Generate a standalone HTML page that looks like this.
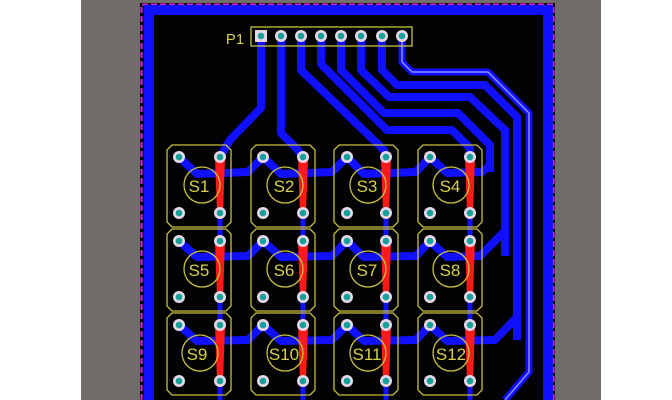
<!DOCTYPE html>
<html><head><meta charset="utf-8"><style>
html,body{margin:0;padding:0;background:#fff;width:672px;height:400px;overflow:hidden}
svg{display:block}
text{font-family:"Liberation Sans",sans-serif;fill:#d8d048}
</style></head><body>
<svg width="672" height="400" viewBox="0 0 672 400" xmlns="http://www.w3.org/2000/svg">
<rect x="0" y="0" width="672" height="400" fill="#fff"/>
<rect x="81" y="0" width="520" height="400" fill="#6f6c6a"/>
<rect x="140" y="3" width="415" height="400" fill="#020202"/>
<path d="M141.5,400 V4.5 H553.5 V400" fill="none" stroke="#e020e0" stroke-width="2" stroke-dasharray="6,3"/>
<path d="M149,400 V10 H548 V400" fill="none" stroke="#1010ff" stroke-width="10"/>

<g fill="none" stroke="#1010ff" stroke-linejoin="round">
<g stroke-width="5">
<path d="M220,157 V400"/><path d="M303,157 V400"/><path d="M386,157 V400"/><path d="M470,157 V400"/>
</g>
<g stroke-width="8">
<path d="M261,36 V108 L230,140 L220,157"/>
<path d="M281,36 V133 L297,149 L303,157"/>
<path d="M301,36 V70 L384,150 L386,157"/>
<path d="M321,36 V64 L387,130 L452,130 L470,148 V157"/>
<path d="M341,36 V70 L384,113 L458,113 L490,145 V172"/>
<path d="M361,36 V70 L389,97 L470,97 L505,130 V256"/>
<path d="M382,36 V70 L397,85 L485,85 L517,117 V340"/>
<path d="M179,157 L197,174 L248,172 L263,157 L281,174 L332,172 L347,157 L364,174 L416,172 L430,157 L447,173 L482,172 L490,165"/>
<path d="M179,241 L197,257 L248,256 L263,241 L281,257 L332,256 L347,241 L364,257 L416,256 L430,241 L447,257 L480,256 L505,231"/>
<path d="M179,325 L197,341 L248,340 L263,325 L281,341 L332,340 L347,325 L364,341 L416,340 L430,325 L447,341 L495,340 L517,317"/>
</g>
<path d="M402,36 V62 L412,72 L488,72 L529,113 V372 L505,400" stroke-width="7"/>
<path d="M402,36 V62 L412,72 L488,72 L529,113 V372 L505,400" stroke="#8c8cff" stroke-width="1.5"/>
</g>

<g fill="#ff1a1a">
<polygon points="215,157 225,157 223,213 217,213"/><polygon points="215,241 225,241 223,297 217,297"/><polygon points="215,325 225,325 223,381 217,381"/>
<polygon points="298,157 308,157 306,213 300,213"/><polygon points="298,241 308,241 306,297 300,297"/><polygon points="298,325 308,325 306,381 300,381"/>
<polygon points="381,157 391,157 389,213 383,213"/><polygon points="381,241 391,241 389,297 383,297"/><polygon points="381,325 391,325 389,381 383,381"/>
<polygon points="465,157 475,157 473,213 467,213"/><polygon points="465,241 475,241 473,297 467,297"/><polygon points="465,325 475,325 473,381 467,381"/>
</g>

<g fill="none" stroke="#c8c040" stroke-width="1.3">
<path d="M172,145 H226 L231,150 V222 L226,227 H172 L167,222 V150 Z"/>
<path d="M172,145 H226 L231,150 V222 L226,227 H172 L167,222 V150 Z" transform="translate(84,0)"/>
<path d="M172,145 H226 L231,150 V222 L226,227 H172 L167,222 V150 Z" transform="translate(167,0)"/>
<path d="M172,145 H226 L231,150 V222 L226,227 H172 L167,222 V150 Z" transform="translate(251,0)"/>
<path d="M172,145 H226 L231,150 V222 L226,227 H172 L167,222 V150 Z" transform="translate(0,84)"/>
<path d="M172,145 H226 L231,150 V222 L226,227 H172 L167,222 V150 Z" transform="translate(84,84)"/>
<path d="M172,145 H226 L231,150 V222 L226,227 H172 L167,222 V150 Z" transform="translate(167,84)"/>
<path d="M172,145 H226 L231,150 V222 L226,227 H172 L167,222 V150 Z" transform="translate(251,84)"/>
<path d="M172,145 H226 L231,150 V222 L226,227 H172 L167,222 V150 Z" transform="translate(0,168)"/>
<path d="M172,145 H226 L231,150 V222 L226,227 H172 L167,222 V150 Z" transform="translate(84,168)"/>
<path d="M172,145 H226 L231,150 V222 L226,227 H172 L167,222 V150 Z" transform="translate(167,168)"/>
<path d="M172,145 H226 L231,150 V222 L226,227 H172 L167,222 V150 Z" transform="translate(251,168)"/>
<circle cx="202" cy="185" r="18"/><circle cx="285" cy="185" r="18"/><circle cx="368" cy="185" r="18"/><circle cx="451" cy="185" r="18"/>
<circle cx="202" cy="269" r="18"/><circle cx="285" cy="269" r="18"/><circle cx="368" cy="269" r="18"/><circle cx="451" cy="269" r="18"/>
<circle cx="200" cy="353" r="18"/><circle cx="285" cy="353" r="18"/><circle cx="368" cy="353" r="18"/><circle cx="451" cy="353" r="18"/>
<rect x="251" y="27" width="161" height="19"/>
</g>

<g>
<g fill="#e6d6e6">
<circle cx="179" cy="157" r="6"/><circle cx="220" cy="157" r="6"/><circle cx="179" cy="213" r="6"/><circle cx="220" cy="213" r="6"/>
<circle cx="263" cy="157" r="6"/><circle cx="303" cy="157" r="6"/><circle cx="263" cy="213" r="6"/><circle cx="303" cy="213" r="6"/>
<circle cx="347" cy="157" r="6"/><circle cx="386" cy="157" r="6"/><circle cx="347" cy="213" r="6"/><circle cx="386" cy="213" r="6"/>
<circle cx="430" cy="157" r="6"/><circle cx="470" cy="157" r="6"/><circle cx="430" cy="213" r="6"/><circle cx="470" cy="213" r="6"/>
<circle cx="179" cy="241" r="6"/><circle cx="220" cy="241" r="6"/><circle cx="179" cy="297" r="6"/><circle cx="220" cy="297" r="6"/>
<circle cx="263" cy="241" r="6"/><circle cx="303" cy="241" r="6"/><circle cx="263" cy="297" r="6"/><circle cx="303" cy="297" r="6"/>
<circle cx="347" cy="241" r="6"/><circle cx="386" cy="241" r="6"/><circle cx="347" cy="297" r="6"/><circle cx="386" cy="297" r="6"/>
<circle cx="430" cy="241" r="6"/><circle cx="470" cy="241" r="6"/><circle cx="430" cy="297" r="6"/><circle cx="470" cy="297" r="6"/>
<circle cx="179" cy="325" r="6"/><circle cx="220" cy="325" r="6"/><circle cx="179" cy="381" r="6"/><circle cx="220" cy="381" r="6"/>
<circle cx="263" cy="325" r="6"/><circle cx="303" cy="325" r="6"/><circle cx="263" cy="381" r="6"/><circle cx="303" cy="381" r="6"/>
<circle cx="347" cy="325" r="6"/><circle cx="386" cy="325" r="6"/><circle cx="347" cy="381" r="6"/><circle cx="386" cy="381" r="6"/>
<circle cx="430" cy="325" r="6"/><circle cx="470" cy="325" r="6"/><circle cx="430" cy="381" r="6"/><circle cx="470" cy="381" r="6"/>
<rect x="255" y="30" width="12" height="12"/>
<circle cx="281" cy="36" r="6"/><circle cx="301" cy="36" r="6"/><circle cx="321" cy="36" r="6"/><circle cx="341" cy="36" r="6"/><circle cx="361" cy="36" r="6"/><circle cx="382" cy="36" r="6"/><circle cx="402" cy="36" r="6"/>
</g>
<g fill="#17a09a">
<circle cx="179" cy="157" r="3.3"/><circle cx="220" cy="157" r="3.3"/><circle cx="179" cy="213" r="3.3"/><circle cx="220" cy="213" r="3.3"/>
<circle cx="263" cy="157" r="3.3"/><circle cx="303" cy="157" r="3.3"/><circle cx="263" cy="213" r="3.3"/><circle cx="303" cy="213" r="3.3"/>
<circle cx="347" cy="157" r="3.3"/><circle cx="386" cy="157" r="3.3"/><circle cx="347" cy="213" r="3.3"/><circle cx="386" cy="213" r="3.3"/>
<circle cx="430" cy="157" r="3.3"/><circle cx="470" cy="157" r="3.3"/><circle cx="430" cy="213" r="3.3"/><circle cx="470" cy="213" r="3.3"/>
<circle cx="179" cy="241" r="3.3"/><circle cx="220" cy="241" r="3.3"/><circle cx="179" cy="297" r="3.3"/><circle cx="220" cy="297" r="3.3"/>
<circle cx="263" cy="241" r="3.3"/><circle cx="303" cy="241" r="3.3"/><circle cx="263" cy="297" r="3.3"/><circle cx="303" cy="297" r="3.3"/>
<circle cx="347" cy="241" r="3.3"/><circle cx="386" cy="241" r="3.3"/><circle cx="347" cy="297" r="3.3"/><circle cx="386" cy="297" r="3.3"/>
<circle cx="430" cy="241" r="3.3"/><circle cx="470" cy="241" r="3.3"/><circle cx="430" cy="297" r="3.3"/><circle cx="470" cy="297" r="3.3"/>
<circle cx="179" cy="325" r="3.3"/><circle cx="220" cy="325" r="3.3"/><circle cx="179" cy="381" r="3.3"/><circle cx="220" cy="381" r="3.3"/>
<circle cx="263" cy="325" r="3.3"/><circle cx="303" cy="325" r="3.3"/><circle cx="263" cy="381" r="3.3"/><circle cx="303" cy="381" r="3.3"/>
<circle cx="347" cy="325" r="3.3"/><circle cx="386" cy="325" r="3.3"/><circle cx="347" cy="381" r="3.3"/><circle cx="386" cy="381" r="3.3"/>
<circle cx="430" cy="325" r="3.3"/><circle cx="470" cy="325" r="3.3"/><circle cx="430" cy="381" r="3.3"/><circle cx="470" cy="381" r="3.3"/>
<circle cx="261" cy="36" r="3.3"/><circle cx="281" cy="36" r="3.3"/><circle cx="301" cy="36" r="3.3"/><circle cx="321" cy="36" r="3.3"/><circle cx="341" cy="36" r="3.3"/><circle cx="361" cy="36" r="3.3"/><circle cx="382" cy="36" r="3.3"/><circle cx="402" cy="36" r="3.3"/>
</g>
</g>

<g font-size="17" text-anchor="middle">
<text x="199" y="192">S1</text><text x="284" y="192">S2</text><text x="367" y="192">S3</text><text x="450" y="192">S4</text>
<text x="199" y="276">S5</text><text x="284" y="276">S6</text><text x="367" y="276">S7</text><text x="450" y="276">S8</text>
<text x="197" y="360">S9</text><text x="284" y="360">S10</text><text x="367" y="360">S11</text><text x="451" y="360">S12</text>
</g>
<text x="235" y="44" font-size="15" text-anchor="middle">P1</text>
</svg>
</body></html>
